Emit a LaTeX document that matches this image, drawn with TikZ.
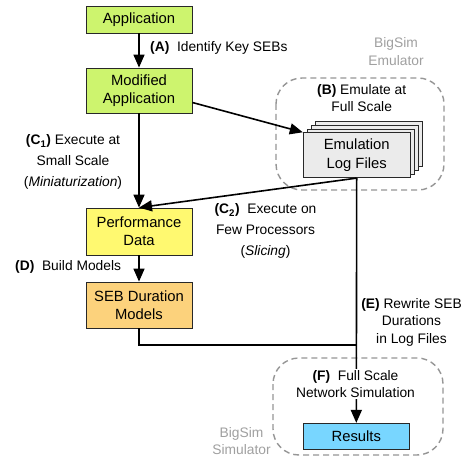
\documentclass[tikz,border=0pt]{standalone}
\usepackage{fontspec}
\setmainfont{Liberation Sans}
\usetikzlibrary{arrows.meta}

\def\W{466}
\def\H{462}
\definecolor{appcolor}{RGB}{205,244,110}
\definecolor{perfcolor}{RGB}{255,249,112}
\definecolor{modelcolor}{RGB}{252,210,124}
\definecolor{rescolor}{RGB}{120,214,255}
\definecolor{logcolor}{RGB}{235,235,235}
\definecolor{edgecolor}{RGB}{40,40,40}
\definecolor{regioncolor}{RGB}{150,150,150}
\definecolor{toolcolor}{RGB}{160,160,160}

\newcommand{\boxfont}{\fontsize{14.8}{18.3}\selectfont}
\newcommand{\notefont}{\fontsize{13.8}{20.6}\selectfont}
\newcommand{\tightfont}{\fontsize{13.8}{17.3}\selectfont}

\tikzset{
    block/.style={draw=edgecolor, line width=0.8pt, minimum width=106pt,
        inner sep=0pt, align=center, font=\boxfont},
    note/.style={align=center, inner sep=1pt, font=\notefont},
    tightnote/.style={align=center, inner sep=1pt, font=\tightfont},
    toolname/.style={tightnote, text=toolcolor},
    region/.style={draw=regioncolor, line width=1.4pt,
        dash pattern=on 6pt off 4pt, rounded corners=26pt},
    flow/.style={line width=1.6pt, -{Triangle[length=13pt,width=11pt]}},
    wire/.style={line width=1.6pt},
}

\begin{document}
% one unit is one pixel of the final picture, y grows downwards
\begin{tikzpicture}[x=1pt,y=-1pt]
\useasboundingbox[fill=white] (0,0) rectangle (\W,\H);

% emulator and simulator regions
\draw[region] (276,78) rectangle (444,190);
\draw[region] (273,358) rectangle (443,455);
\node[toolname] (emuname) at (396,51.7) {BigSim\\Emulator};
\node[toolname] (simname) at (241.5,441.3) {BigSim\\Simulator};

% left column
\node[block, fill=appcolor, minimum height=27pt] (app) at (139,19.5) {Application};
\node[block, fill=appcolor, minimum height=45pt] (modapp) at (139,90.5) {Modified\\Application};
\node[block, fill=perfcolor, minimum height=47pt] (perf) at (139,231.5) {Performance\\Data};
\node[block, fill=modelcolor, minimum height=46pt] (sebmod) at (139,305) {SEB Duration\\Models};

% stack of log files, back sheets first
\foreach \i in {3,2,1} {
    \node[block, fill=logcolor, minimum width=107pt, minimum height=45pt]
        (sheet\i) at (356.7+4*\i,155.2-3.7*\i) {};
}
\node[block, fill=logcolor, minimum width=107pt, minimum height=45pt]
    (logs) at (356.7,155.2) {Emulation\\Log Files};

\node[block, fill=rescolor, minimum height=26pt] (results) at (356.3,436.3) {Results};

% flow
\draw[flow] (app) -- (modapp);
\draw[flow] ([yshift=-12pt]modapp.east) -- (logs.north west);
\draw[flow] (modapp) -- (perf);
\draw[flow] (logs.south) -- (perf.north);
\draw[flow] (perf) -- (sebmod);
\coordinate (join) at (logs.south |- 0,345);
\draw[wire] (sebmod.south) |- (join);
\draw[flow] (logs.south) -- (results.north);

% step labels
\node[note, anchor=west] (stepA) at (149,47.5) {\textbf{(A)}~~Identify Key SEBs};
\node[tightnote] (stepB) at (361.7,98.3) {\textbf{(B)} Emulate at\\Full Scale};
\node[note] (stepC1) at (73,162) {\textbf{(C\textsubscript{1})} Execute at\\Small Scale\\(\textit{Miniaturization})};
\node[note] (stepC2) at (265.5,231) {\textbf{(C\textsubscript{2})}~~Execute on\\Few Processors\\(\textit{Slicing})};
\node[note, anchor=west] (stepD) at (14,266.7) {\textbf{(D)}~~Build Models};
\node[tightnote] (stepE) at (411.5,322.3) {\textbf{(E)} Rewrite SEB\\Durations\\in Log Files};
\node[tightnote, fill=white] (stepF) at (355.5,384.2) {\textbf{(F)}~~Full Scale\\Network Simulation};
\end{tikzpicture}
\end{document}
